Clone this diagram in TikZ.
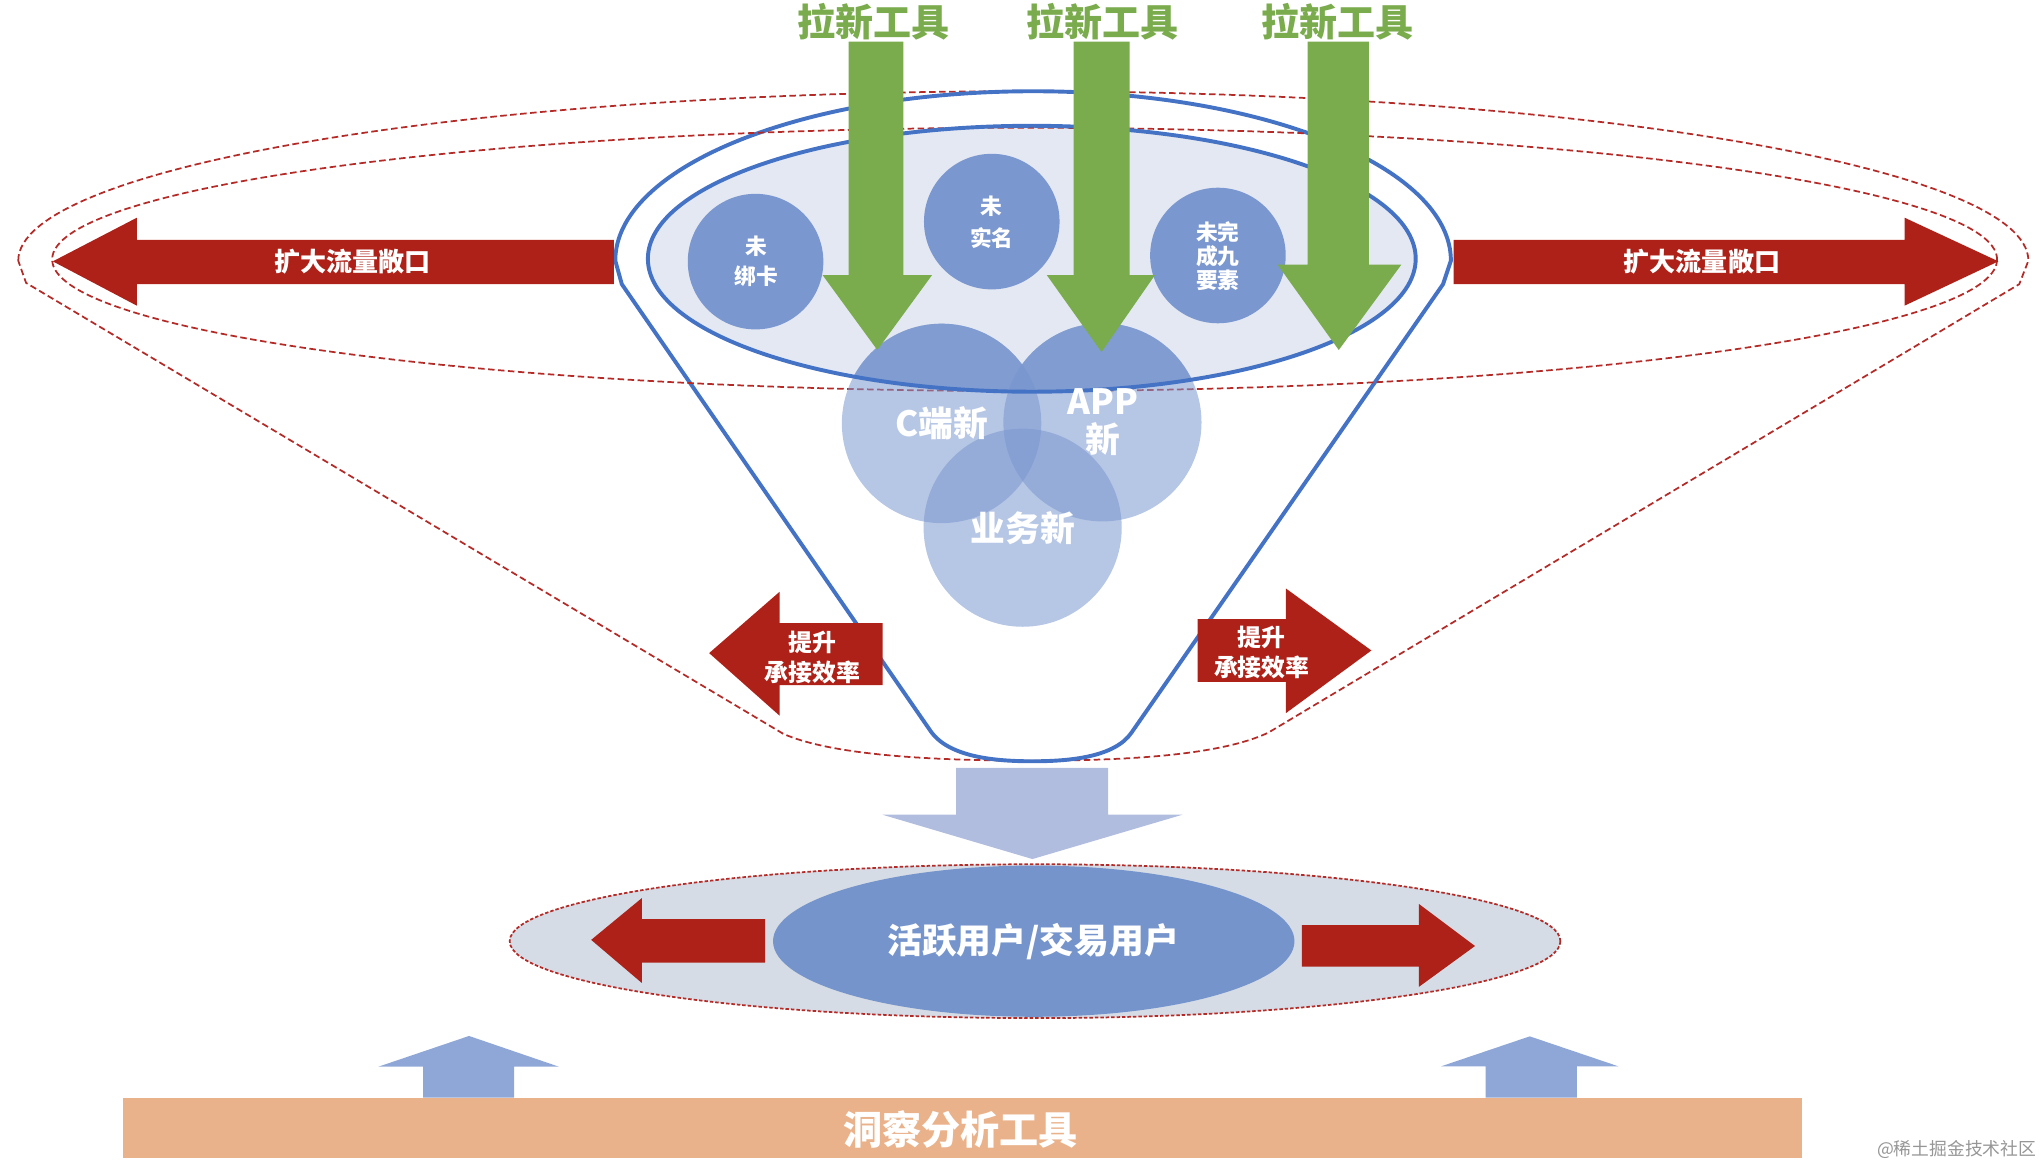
\documentclass[tikz,border=0pt]{standalone}
\usepackage{fontspec}
\setmainfont{Noto Sans CJK SC}
\definecolor{fblue}{RGB}{68,114,196}
\definecolor{lblue}{RGB}{228,232,243}
\definecolor{mblue}{RGB}{122,151,207}
\definecolor{dred}{RGB}{180,42,38}
\definecolor{ared}{RGB}{174,33,24}
\definecolor{agreen}{RGB}{122,171,76}
\definecolor{darrow}{RGB}{176,189,222}
\definecolor{bell}{RGB}{214,220,230}
\definecolor{bin}{RGB}{117,148,203}
\definecolor{uarrow}{RGB}{143,167,214}
\definecolor{obar}{RGB}{234,178,138}
\definecolor{wm}{RGB}{150,150,150}
\tikzset{
  funnelline/.style={draw=fblue,line width=1.8pt,line join=round},
  reddash/.style={draw=dred,line width=0.8pt,dash pattern=on 3pt off 1.6pt},
  finedash/.style={draw=dred,line width=0.8pt,dash pattern=on 1.6pt off 0.9pt},
  redarrow/.style={fill=ared},
  greenarrow/.style={fill=agreen},
  wtext/.style={text=white,align=center,inner sep=0pt},
  gtext/.style={text=agreen,inner sep=0pt,font=\bfseries\fontsize{17.5}{20}\selectfont},
}
\begin{document}
\begin{tikzpicture}[x=0.6pt,y=-0.6pt]
\useasboundingbox (0,0) rectangle (1568,893);
% outer dashed funnel
\draw[reddash] (14,200) arc[start angle=180,end angle=360,x radius=771,y radius=130]
  -- (1549,218) -- (973,562) .. controls (935,580) and (860,583.5) .. (792,583.5)
  .. controls (720,583.5) and (640,580) .. (601,563) -- (20,217) -- cycle;
% funnel outline
\draw[funnelline] (472,200) arc[start angle=180,end angle=360,x radius=320.5,y radius=130]
  -- (1107,218) -- (868,562) .. controls (855,581) and (820,584) .. (792,584)
  .. controls (764,584) and (728,581) .. (714,561) -- (477,218) -- cycle;
% inner ellipse fill
\fill[lblue] (791.5,198.5) ellipse[x radius=294.5,y radius=102];
% inner dashed ellipse
\draw[reddash] (786,199) ellipse[x radius=746,y radius=101];
% Venn circles
\fill[mblue,fill opacity=0.55] (722.3,324.8) circle[radius=76.5];
\fill[mblue,fill opacity=0.55] (845.7,324) circle[radius=76];
\fill[mblue,fill opacity=0.55] (784.5,404.8) circle[radius=76];
\begin{scope}
\clip (791.5,198.5) ellipse[x radius=294.5,y radius=102];
\fill[mblue,fill opacity=0.85] (722.3,324.8) circle[radius=76.5];
\fill[mblue,fill opacity=0.85] (845.7,324) circle[radius=76];
\end{scope}
\draw[funnelline] (791.5,198.5) ellipse[x radius=294.5,y radius=102];
% small circles
\fill[mblue] (579.6,200.7) circle[radius=52];
\fill[mblue] (760.8,170) circle[radius=52];
\fill[mblue] (934.3,196) circle[radius=52];
% green arrows
\fill[greenarrow] (651,32) -- (693,32) -- (693,211) -- (715,211) -- (673,268.5) -- (631,211) -- (651,211) -- cycle;
\fill[greenarrow] (823.5,32) -- (866.5,32) -- (866.5,211) -- (886,211) -- (845,270) -- (803,211) -- (823.5,211) -- cycle;
\fill[greenarrow] (1003,32) -- (1050,32) -- (1050,203) -- (1075,203) -- (1027,268.5) -- (980,203) -- (1003,203) -- cycle;
% big red arrows
\fill[redarrow] (40.5,200.5) -- (105,167) -- (105,184) -- (471,184) -- (471,218) -- (105,218) -- (105,234.5) -- cycle;
\fill[redarrow] (1533,200.5) -- (1461,167) -- (1461,184) -- (1115,184) -- (1115,218) -- (1461,218) -- (1461,234.5) -- cycle;
% lower red arrows
\fill[redarrow] (544,501) -- (598,454) -- (598,478) -- (677,478) -- (677,525.5) -- (598,525.5) -- (598,549) -- cycle;
\fill[redarrow] (1052,499) -- (986.5,451.5) -- (986.5,475) -- (918.8,475) -- (918.8,523) -- (986.5,523) -- (986.5,547) -- cycle;
% down arrow
\fill[darrow] (733.5,589) -- (850,589) -- (850,625) -- (907,625) -- (792,659) -- (677,625) -- (733.5,625) -- cycle;
% bottom ellipse
\fill[bell] (794,722) ellipse[x radius=403,y radius=59];
\fill[bin] (793,722) ellipse[x radius=200,y radius=58];
\fill[redarrow] (453.5,721) -- (492.3,689) -- (492.3,705) -- (587,705) -- (587,738.5) -- (492.3,738.5) -- (492.3,754) -- cycle;
\fill[redarrow] (1131.5,725.7) -- (1088.5,693.5) -- (1088.5,709.6) -- (998.6,709.6) -- (998.6,741.6) -- (1088.5,741.6) -- (1088.5,757) -- cycle;
\draw[finedash] (794,722) ellipse[x radius=403,y radius=59];
% up arrows and bar
\fill[uarrow] (359.8,794.7) -- (428.8,818.3) -- (394.3,818.3) -- (394.3,842) -- (324.6,842) -- (324.6,818.3) -- (290.2,818.3) -- cycle;
\fill[uarrow] (1173.5,795) -- (1241.5,818) -- (1209.6,818) -- (1209.6,842) -- (1139.6,842) -- (1139.6,818) -- (1105.5,818) -- cycle;
\fill[obar] (94,842) rectangle (1382,888);
% texts
\node[gtext] (g1) at (670,17) {拉新工具};
\node[gtext] (g2) at (846,17) {拉新工具};
\node[gtext] (g3) at (1026,17) {拉新工具};
\node[wtext,font=\bfseries\fontsize{12}{14}\selectfont] (kl) at (270.5,201) {扩大流量敞口};
\node[wtext,font=\bfseries\fontsize{12}{14}\selectfont] (kr) at (1305.6,201) {扩大流量敞口};
\node[wtext,font=\bfseries\fontsize{10}{14}\selectfont] (s1) at (580,200.5) {未\\绑卡};
\node[wtext,font=\bfseries\fontsize{10}{14.4}\selectfont] (s2) at (760.8,170.6) {未\\实名};
\node[wtext,font=\bfseries\fontsize{10}{11}\selectfont] (s3) at (934.3,196.4) {未完\\成九\\要素};
\node[wtext,font=\bfseries\fontsize{16}{18}\selectfont] (v1) at (722.4,324.6) {C端新};
\node[wtext,font=\bfseries\fontsize{16}{17.7}\selectfont] (v2) at (845.9,324) {APP\\新};
\node[wtext,font=\bfseries\fontsize{16}{18}\selectfont] (v3) at (784.8,405) {业务新};
\node[wtext,font=\bfseries\fontsize{11}{13.8}\selectfont] (e1) at (623,504) {提升\\承接效率};
\node[wtext,font=\bfseries\fontsize{11}{13.8}\selectfont] (e2) at (968,500.5) {提升\\承接效率};
\node[wtext,font=\bfseries\fontsize{16}{18}\selectfont] (act) at (792.5,722.4) {活跃用户/交易用户};
\node[wtext,font=\bfseries\fontsize{18}{20}\selectfont] (ins) at (737,866.8) {洞察分析工具};
\node[text=wm,inner sep=0pt,font=\fontsize{8.2}{10}\selectfont] (wmk) at (1501,881.5) {@稀土掘金技术社区};
\end{tikzpicture}
\end{document}
